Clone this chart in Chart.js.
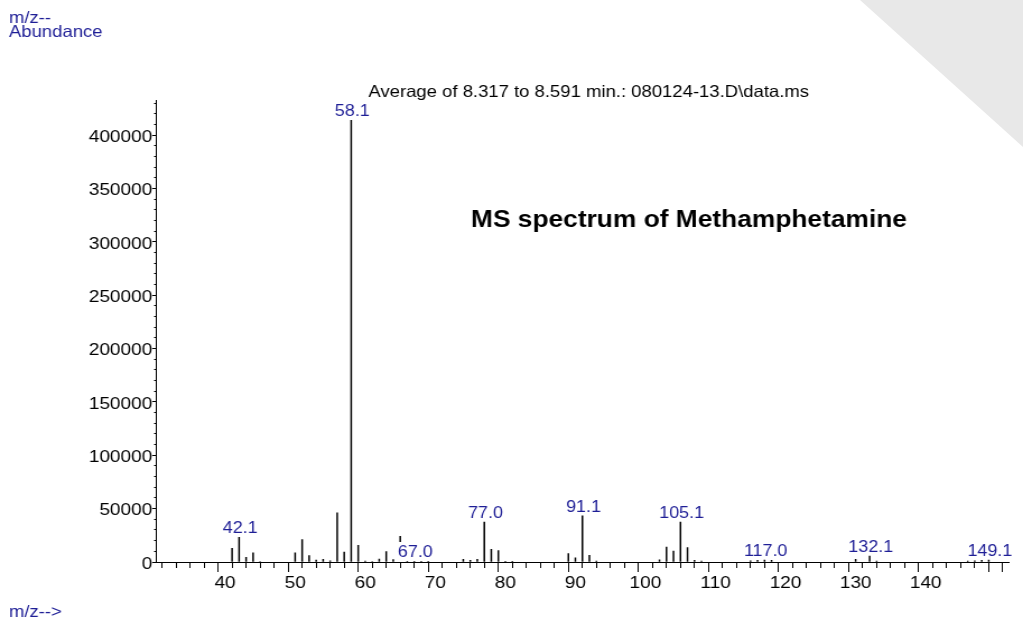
<!DOCTYPE html>
<html>
<head>
<meta charset="utf-8">
<title>MS spectrum of Methamphetamine</title>
<script src="https://cdn.jsdelivr.net/npm/chart.js@4.4.1/dist/chart.umd.min.js"></script>
<style>
    html, body { margin: 0; padding: 0; background: #fff; overflow: hidden; }
    /* grey corner in the top right */
    #corner { position: absolute; left: 860px; top: 0; width: 163px; height: 147px; background: #e8e8e8;
              clip-path: polygon(0 0, 100% 0, 100% 100%); }
    /* the printout is stretched a little horizontally */
    #wrap { position: absolute; left: 0; top: 0; width: 913px; height: 619px;
            transform: scaleX(1.1205); transform-origin: 0 0; }
</style>
</head>
<body>
<div id="corner"></div>
<div id="wrap"><canvas id="myChart"></canvas></div>
<script>
// Peaks (m/z and abundance)
const mzValues = [41, 42, 43, 44, 45, 50, 51, 52, 53, 54, 55, 56, 57, 58, 59, 60, 61, 62, 63, 64,
    66, 67, 68, 69, 74, 75, 76, 77, 78, 79, 80, 81, 89, 90, 91, 92, 93,
    102, 103, 104, 105, 106, 107, 108, 115, 116, 117, 118, 130, 132, 133, 146, 147, 148, 149];
const abundances = [12900, 23200, 4400, 8700, 500, 8700, 20900, 5900, 1900, 2500, 1000, 46000, 9400, 414000, 15700, 900, 500, 2800, 9700, 2300,
    400, 600, 300, 300, 2500, 1500, 2500, 37300, 11900, 10600, 600, 300, 7800, 3800, 43200, 6300, 800,
    2000, 14100, 10300, 37300, 13400, 1600, 900, 1200, 1500, 1800, 1500, 2500, 5600, 900, 800, 1200, 1500, 1800];

// Short floating mark near m/z 65
const floatMz = [65];
const floatRange = [[19000, 24000]];

// Labelled peaks
const peakLabels = ['42.1', '58.1', '67.0', '77.0', '91.1', '105.1', '117.0', '132.1', '149.1'];

// Axes
const xMin = 31.23, xMax = 150.8, xStep = 2, xMajor = 10;
const xTickLabels = ['40', '50', '60', '70', '80', '90', '100', '110', '120', '130', '140'];
const yMin = 0, yMax = 433000, yStep = 10000, yMajor = 50000, yTop = 430000;

const titleText = 'Average of 8.317 to 8.591 min.: 080124-13.D\\data.ms';
const noteText = 'MS spectrum of Methamphetamine';

const FONT = '"Liberation Sans", Arial, Helvetica, sans-serif';
const BLUE = '#1e1e96';

function isMajor(v, step) {
    const r = Math.abs(v % step);
    return r < 1e-6 || Math.abs(r - step) < 1e-6;
}

// Texts drawn on top of the chart
const textPlugin = {
    id: 'texts',
    afterDraw(chart) {
        const ctx = chart.ctx;
        const xs = chart.scales.x, ys = chart.scales.y;
        ctx.save();
        ctx.textBaseline = 'alphabetic';

        // peak labels
        ctx.fillStyle = BLUE;
        ctx.font = '16px ' + FONT;
        ctx.textAlign = 'center';
        peakLabels.forEach(lbl => {
            const mz = Math.round(parseFloat(lbl));
            const i = mzValues.indexOf(mz);
            const v = i >= 0 ? abundances[i] : 0;
            ctx.fillText(lbl, xs.getPixelForValue(mz) + 1, ys.getPixelForValue(v) - 4);
        });

        // title
        ctx.fillStyle = '#000';
        ctx.font = '16.5px ' + FONT;
        ctx.fillText(titleText, 525.4, 96.7);

        // note
        ctx.font = 'bold 23.5px ' + FONT;
        ctx.textAlign = 'left';
        ctx.fillText(noteText, 420.3, 226.7);

        // axis captions
        ctx.fillStyle = BLUE;
        ctx.font = '16.5px ' + FONT;
        ctx.fillText('m/z--', 8, 23.3);
        ctx.fillText('Abundance', 8, 36.7);
        ctx.fillText('m/z-->', 8, 616.7);
        ctx.restore();
    }
};

const ctx = document.getElementById('myChart').getContext('2d');
const myChart = new Chart(ctx, {
    type: 'bar',
    data: {
        datasets: [{
            data: mzValues.map((m, i) => ({ x: m, y: abundances[i] })),
            backgroundColor: '#000',
            barThickness: 0.85,
            grouped: false
        }, {
            data: floatMz.map((m, i) => ({ x: m, y: floatRange[i] })),
            backgroundColor: '#000',
            barThickness: 0.85,
            grouped: false
        }]
    },
    options: {
        responsive: true,
        maintainAspectRatio: false,
        animation: false,
        layout: { padding: { top: 100, right: 13, left: 0, bottom: 0 } },
        plugins: {
            legend: { display: false },
            tooltip: { enabled: false },
            title: { display: false }
        },
        scales: {
            x: {
                type: 'linear',
                min: xMin,
                max: xMax,
                afterFit: s => { s.height = 57; },
                border: { display: true, color: '#000', width: 1 },
                grid: {
                    drawOnChartArea: false,
                    tickLength: 10,
                    tickColor: '#000',
                    tickBorderDash: c => (!c.tick || isMajor(c.tick.value, xMajor) ? [] : [5, 100])
                },
                ticks: {
                    stepSize: xStep,
                    includeBounds: false,
                    autoSkip: false,
                    maxRotation: 0,
                    padding: 1,
                    color: '#000',
                    font: { family: FONT, size: 17 },
                    callback: v => {
                        const s = String(Math.round(v));
                        return isMajor(v, xMajor) && xTickLabels.includes(s) ? s : '';
                    }
                }
            },
            y: {
                type: 'linear',
                min: yMin,
                max: yMax,
                afterFit: s => { s.width = 139.7; },
                // ticks every 10000 up to the last full step below the top
                afterBuildTicks: s => {
                    const t = [];
                    for (let v = yMin; v <= yTop; v += yStep) t.push({ value: v });
                    s.ticks = t;
                },
                border: { display: true, color: '#000', width: 1 },
                grid: {
                    drawOnChartArea: false,
                    tickLength: 3.8,
                    tickColor: '#000',
                    tickBorderDash: c => (!c.tick || isMajor(c.tick.value, yMajor) ? [] : [0, 1.6, 2.2, 100])
                },
                ticks: {
                    autoSkip: false,
                    padding: 0,
                    labelOffset: 2,
                    color: '#000',
                    font: { family: FONT, size: 17 },
                    callback: v => (isMajor(v, yMajor) ? String(v) : '')
                }
            }
        }
    },
    plugins: [textPlugin]
});
</script>
</body>
</html>
